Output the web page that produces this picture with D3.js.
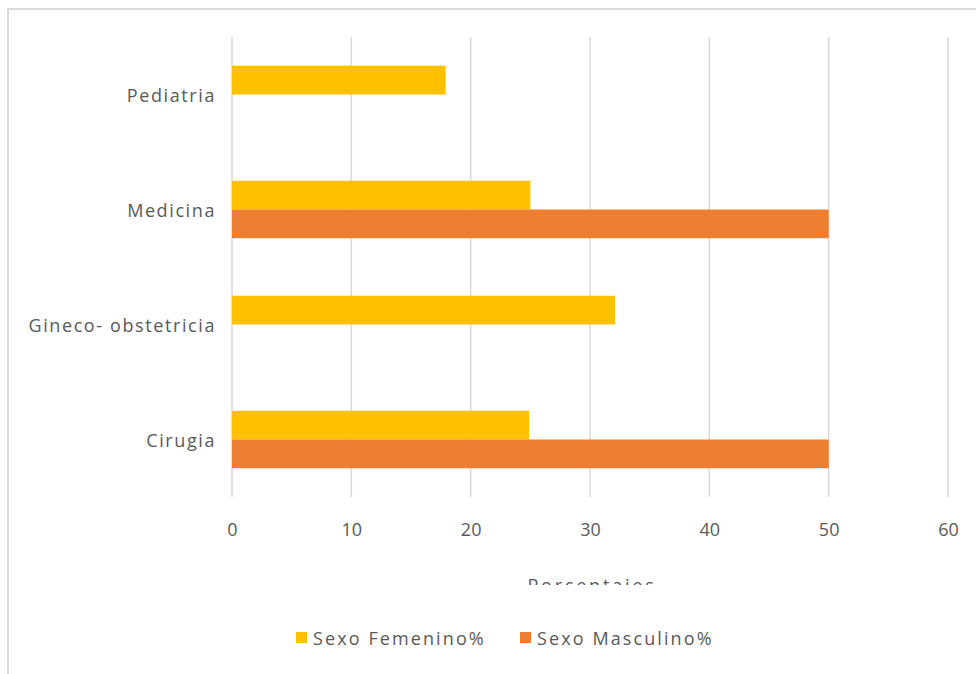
<!DOCTYPE html>
<html>
<head>
<meta charset="utf-8">
<script src="https://cdn.jsdelivr.net/npm/d3@7"></script>
<style>
  html, body { margin: 0; padding: 0; background: #fff; }
  svg { display: block; }
  text { font-family: "Open Sans", "Liberation Sans", sans-serif; fill: #595959; }
</style>
</head>
<body>
<script>
// Departments (top to bottom) and the share of each sex per department
const categories = ["Pediatria", "Medicina", "Gineco- obstetricia", "Cirugia"];
const femenino = [17.9, 25, 32.1, 24.9];
const masculino = [0, 50, 0, 50];
const seriesNames = ["Sexo Femenino%", "Sexo Masculino%"];
const seriesColors = ["#FFC000", "#ED7D31"];
const xTicks = [0, 10, 20, 30, 40, 50, 60];
const axisTitle = "Porcentajes";

const W = 976, H = 674;
const svg = d3.select("body").append("svg").attr("width", W).attr("height", H);

// chart frame (only left and top edges fall inside the view)
svg.append("path")
  .attr("d", `M8,${H} L8,9 L${W},9`)
  .attr("fill", "none").attr("stroke", "#d9d9d9").attr("stroke-width", 2);

const plot = { left: 232, right: 948, top: 37, bottom: 497 };

const x = d3.scaleLinear().domain([0, 60]).range([plot.left, plot.right]);
const y = d3.scaleBand().domain(categories).range([plot.top, plot.bottom]).paddingInner(0.5).paddingOuter(0.25);
const sub = d3.scaleBand().domain(seriesNames).range([0, y.bandwidth()]);

// vertical gridlines
svg.append("g").selectAll("line").data(xTicks).join("line")
  .attr("x1", d => x(d)).attr("x2", d => x(d))
  .attr("y1", plot.top).attr("y2", plot.bottom)
  .attr("stroke", "#d9d9d9").attr("stroke-width", 1.5);

// bars
const rows = categories.map((c, i) => ({ c, vals: [femenino[i], masculino[i]] }));
const g = svg.append("g");
rows.forEach(r => {
  r.vals.forEach((v, j) => {
    if (v <= 0) return;
    g.append("rect")
      .attr("x", x(0))
      .attr("y", y(r.c) + sub(seriesNames[j]))
      .attr("width", x(v) - x(0))
      .attr("height", sub.bandwidth())
      .attr("fill", seriesColors[j]);
  });
});

// category labels
const yAxis = d3.axisLeft(y).tickSize(0).tickPadding(16);
const ya = svg.append("g").attr("transform", `translate(${plot.left},0)`).call(yAxis);
ya.select(".domain").remove();
ya.selectAll("text").attr("font-size", 18).attr("font-family", null)
  .attr("letter-spacing", 1.6).attr("dy", "0.4em").attr("fill", "#595959");

// value axis labels
const xAxis = d3.axisBottom(x).tickValues(xTicks).tickSize(0).tickPadding(26);
const xa = svg.append("g").attr("transform", `translate(0,${plot.bottom})`).call(xAxis);
xa.select(".domain").remove();
xa.selectAll("text").attr("font-size", 18).attr("font-family", null).attr("fill", "#595959");

// axis title, cut off by the legend area below it
svg.append("clipPath").attr("id", "titleClip")
  .append("rect").attr("x", 0).attr("y", 0).attr("width", W).attr("height", 585);
svg.append("text")
  .attr("clip-path", "url(#titleClip)")
  .attr("x", 592).attr("y", 592)
  .attr("text-anchor", "middle").attr("font-size", 18)
  .attr("letter-spacing", 2.8)
  .text(axisTitle);

// legend
const legendX = [296, 520];
const lg = svg.append("g");
seriesNames.forEach((name, i) => {
  lg.append("rect").attr("x", legendX[i]).attr("y", 632)
    .attr("width", 11).attr("height", 11).attr("fill", seriesColors[i]);
  lg.append("text").attr("x", legendX[i] + 17).attr("y", 645)
    .attr("font-size", 18).attr("letter-spacing", 2.1).text(name);
});
</script>
</body>
</html>
